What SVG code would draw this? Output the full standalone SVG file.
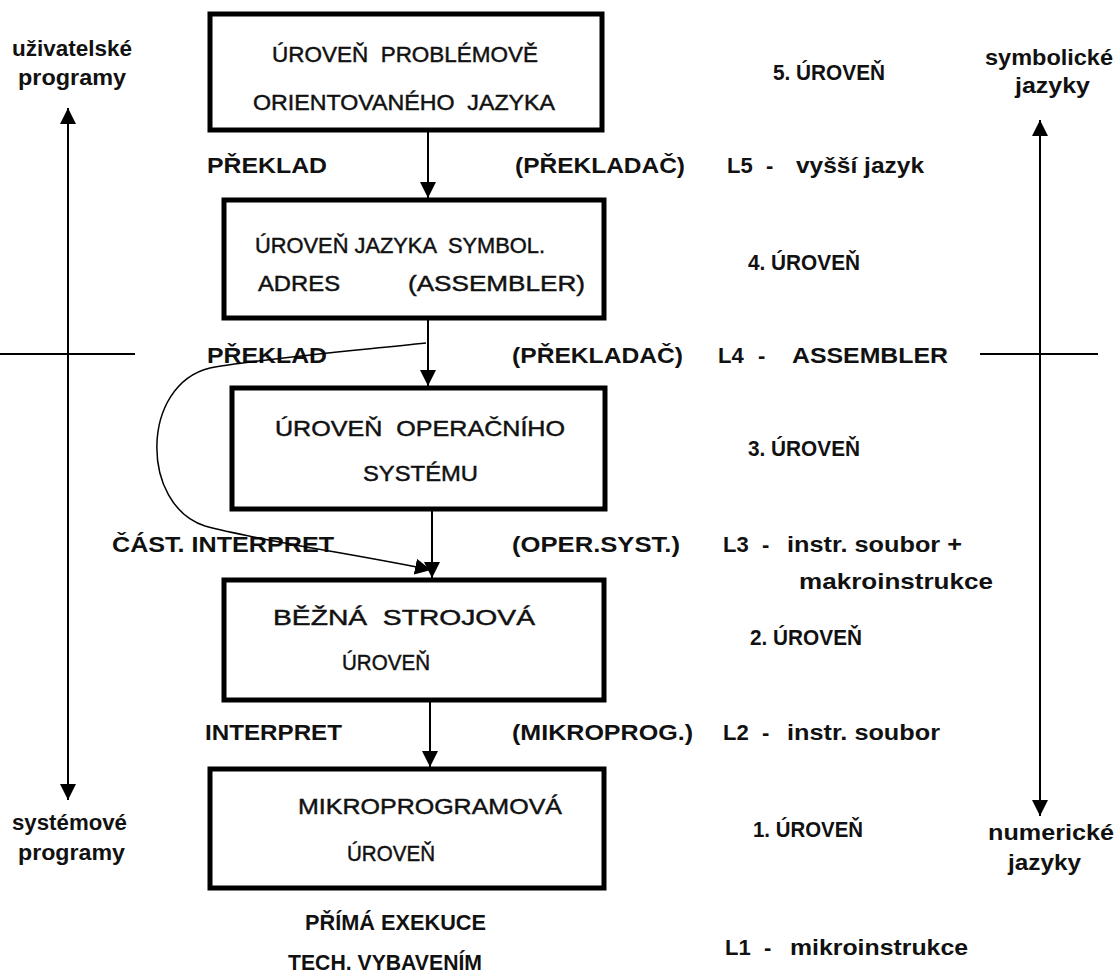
<svg xmlns="http://www.w3.org/2000/svg" width="1118" height="977" viewBox="0 0 1118 977">
<style>
.box{fill:#fff;stroke:#000;stroke-width:5}
.bt{font-family:"Liberation Sans",Arial,sans-serif;font-size:22px;fill:#111;stroke:#111;stroke-width:0.45}
.lb{font-family:"Liberation Sans",Arial,sans-serif;font-size:22px;font-weight:bold;fill:#111}
.ln{stroke:#000;stroke-width:2;fill:none}
.cv{stroke:#000;stroke-width:1.5;fill:none}
</style>
<defs>
<marker id="ah" viewBox="0 0 16 16" refX="16" refY="8" markerWidth="16" markerHeight="16" orient="auto-start-reverse" markerUnits="userSpaceOnUse"><path d="M0,0 L16,8 L0,16 z" fill="#000"/></marker>
</defs>
<rect width="1118" height="977" fill="#fff"/>

<g id="n5"><rect class="box" x="210" y="14" width="392" height="116"/>
<text class="bt" x="272" y="62" textLength="266" lengthAdjust="spacingAndGlyphs" xml:space="preserve">ÚROVEŇ  PROBLÉMOVĚ</text>
<text class="bt" x="253" y="110" textLength="302" lengthAdjust="spacingAndGlyphs" xml:space="preserve">ORIENTOVANÉHO  JAZYKA</text></g>

<g id="n4"><rect class="box" x="224" y="200" width="380" height="118"/>
<text class="bt" x="255" y="253" textLength="290" lengthAdjust="spacingAndGlyphs" xml:space="preserve">ÚROVEŇ JAZYKA  SYMBOL.</text>
<text class="bt" x="258" y="291" textLength="82" lengthAdjust="spacingAndGlyphs">ADRES</text>
<text class="bt" x="408" y="291" textLength="177" lengthAdjust="spacingAndGlyphs">(ASSEMBLER)</text></g>

<g id="n3"><rect class="box" x="232" y="388" width="373" height="121"/>
<text class="bt" x="275" y="436" textLength="290" lengthAdjust="spacingAndGlyphs" xml:space="preserve">ÚROVEŇ  OPERAČNÍHO</text>
<text class="bt" x="363" y="481" textLength="115" lengthAdjust="spacingAndGlyphs">SYSTÉMU</text></g>

<g id="n2"><rect class="box" x="224" y="580" width="380" height="120"/>
<text class="bt" x="273" y="625" textLength="262" lengthAdjust="spacingAndGlyphs" xml:space="preserve">BĚŽNÁ  STROJOVÁ</text>
<text class="bt" x="342" y="670" textLength="88" lengthAdjust="spacingAndGlyphs">ÚROVEŇ</text></g>

<g id="n1"><rect class="box" x="210" y="769" width="394" height="119"/>
<text class="bt" x="298" y="814" textLength="264" lengthAdjust="spacingAndGlyphs">MIKROPROGRAMOVÁ</text>
<text class="bt" x="347" y="861" textLength="88" lengthAdjust="spacingAndGlyphs">ÚROVEŇ</text></g>

<g id="labels">
<text class="lb" x="12" y="56" textLength="120" lengthAdjust="spacingAndGlyphs">uživatelské</text>
<text class="lb" x="18" y="85" textLength="108" lengthAdjust="spacingAndGlyphs">programy</text>
<text class="lb" x="12" y="830" textLength="115" lengthAdjust="spacingAndGlyphs">systémové</text>
<text class="lb" x="18" y="860" textLength="107" lengthAdjust="spacingAndGlyphs">programy</text>
<text class="lb" x="985" y="65" textLength="128" lengthAdjust="spacingAndGlyphs">symbolické</text>
<text class="lb" x="1015" y="93" textLength="75" lengthAdjust="spacingAndGlyphs">jazyky</text>
<text class="lb" x="988" y="840" textLength="126" lengthAdjust="spacingAndGlyphs">numerické</text>
<text class="lb" x="1008" y="870" textLength="73" lengthAdjust="spacingAndGlyphs">jazyky</text>

<text class="lb" x="773" y="80" textLength="112" lengthAdjust="spacingAndGlyphs">5. ÚROVEŇ</text>
<text class="lb" x="748" y="270" textLength="112" lengthAdjust="spacingAndGlyphs">4. ÚROVEŇ</text>
<text class="lb" x="748" y="456" textLength="112" lengthAdjust="spacingAndGlyphs">3. ÚROVEŇ</text>
<text class="lb" x="750" y="645" textLength="112" lengthAdjust="spacingAndGlyphs">2. ÚROVEŇ</text>
<text class="lb" x="753" y="837" textLength="110" lengthAdjust="spacingAndGlyphs">1. ÚROVEŇ</text>

<text class="lb" x="207" y="173" textLength="120" lengthAdjust="spacingAndGlyphs">PŘEKLAD</text>
<text class="lb" x="515" y="173" textLength="170" lengthAdjust="spacingAndGlyphs">(PŘEKLADAČ)</text>
<text class="lb" x="727" y="173">L5</text>
<text class="lb" x="766" y="173">-</text>
<text class="lb" x="796" y="173" textLength="128" lengthAdjust="spacingAndGlyphs">vyšší jazyk</text>

<text class="lb" x="207" y="363" textLength="120" lengthAdjust="spacingAndGlyphs">PŘEKLAD</text>
<text class="lb" x="512" y="363" textLength="171" lengthAdjust="spacingAndGlyphs">(PŘEKLADAČ)</text>
<text class="lb" x="718" y="363">L4</text>
<text class="lb" x="758" y="363">-</text>
<text class="lb" x="792" y="363" textLength="156" lengthAdjust="spacingAndGlyphs">ASSEMBLER</text>

<text class="lb" x="112" y="552" textLength="222" lengthAdjust="spacingAndGlyphs">ČÁST. INTERPRET</text>
<text class="lb" x="512" y="552" textLength="168" lengthAdjust="spacingAndGlyphs">(OPER.SYST.)</text>
<text class="lb" x="723" y="552">L3</text>
<text class="lb" x="762" y="552">-</text>
<text class="lb" x="787" y="552" textLength="175" lengthAdjust="spacingAndGlyphs">instr. soubor +</text>
<text class="lb" x="799" y="589" textLength="194" lengthAdjust="spacingAndGlyphs">makroinstrukce</text>

<text class="lb" x="205" y="740" textLength="137" lengthAdjust="spacingAndGlyphs">INTERPRET</text>
<text class="lb" x="512" y="740" textLength="181" lengthAdjust="spacingAndGlyphs">(MIKROPROG.)</text>
<text class="lb" x="723" y="740">L2</text>
<text class="lb" x="762" y="740">-</text>
<text class="lb" x="787" y="740" textLength="153" lengthAdjust="spacingAndGlyphs">instr. soubor</text>

<text class="lb" x="305" y="930" textLength="181" lengthAdjust="spacingAndGlyphs">PŘÍMÁ EXEKUCE</text>
<text class="lb" x="288" y="970" textLength="194" lengthAdjust="spacingAndGlyphs">TECH. VYBAVENÍM</text>
<text class="lb" x="725" y="955">L1</text>
<text class="lb" x="764" y="955">-</text>
<text class="lb" x="790" y="955" textLength="178" lengthAdjust="spacingAndGlyphs">mikroinstrukce</text>
</g>

<g id="connectors">
<line class="ln" x1="428" y1="132" x2="428" y2="198" marker-end="url(#ah)"/>
<line class="ln" x1="428" y1="320" x2="428" y2="386" marker-end="url(#ah)"/>
<line class="ln" x1="432" y1="511" x2="432" y2="578" marker-end="url(#ah)"/>
<line class="ln" x1="430" y1="702" x2="430" y2="767" marker-end="url(#ah)"/>
<path class="cv" d="M426,343 C340,352 250,360 210,368 C140,385 140,505 205,526 C260,541 360,555 431,570" marker-end="url(#ah)"/>
<line class="ln" x1="68" y1="108" x2="68" y2="800" marker-start="url(#ah)" marker-end="url(#ah)"/>
<line class="ln" x1="1040" y1="120" x2="1040" y2="816" marker-start="url(#ah)" marker-end="url(#ah)"/>
<line class="ln" x1="0" y1="354" x2="135" y2="354"/>
<line class="ln" x1="980" y1="354" x2="1098" y2="354"/>
</g>
</svg>
